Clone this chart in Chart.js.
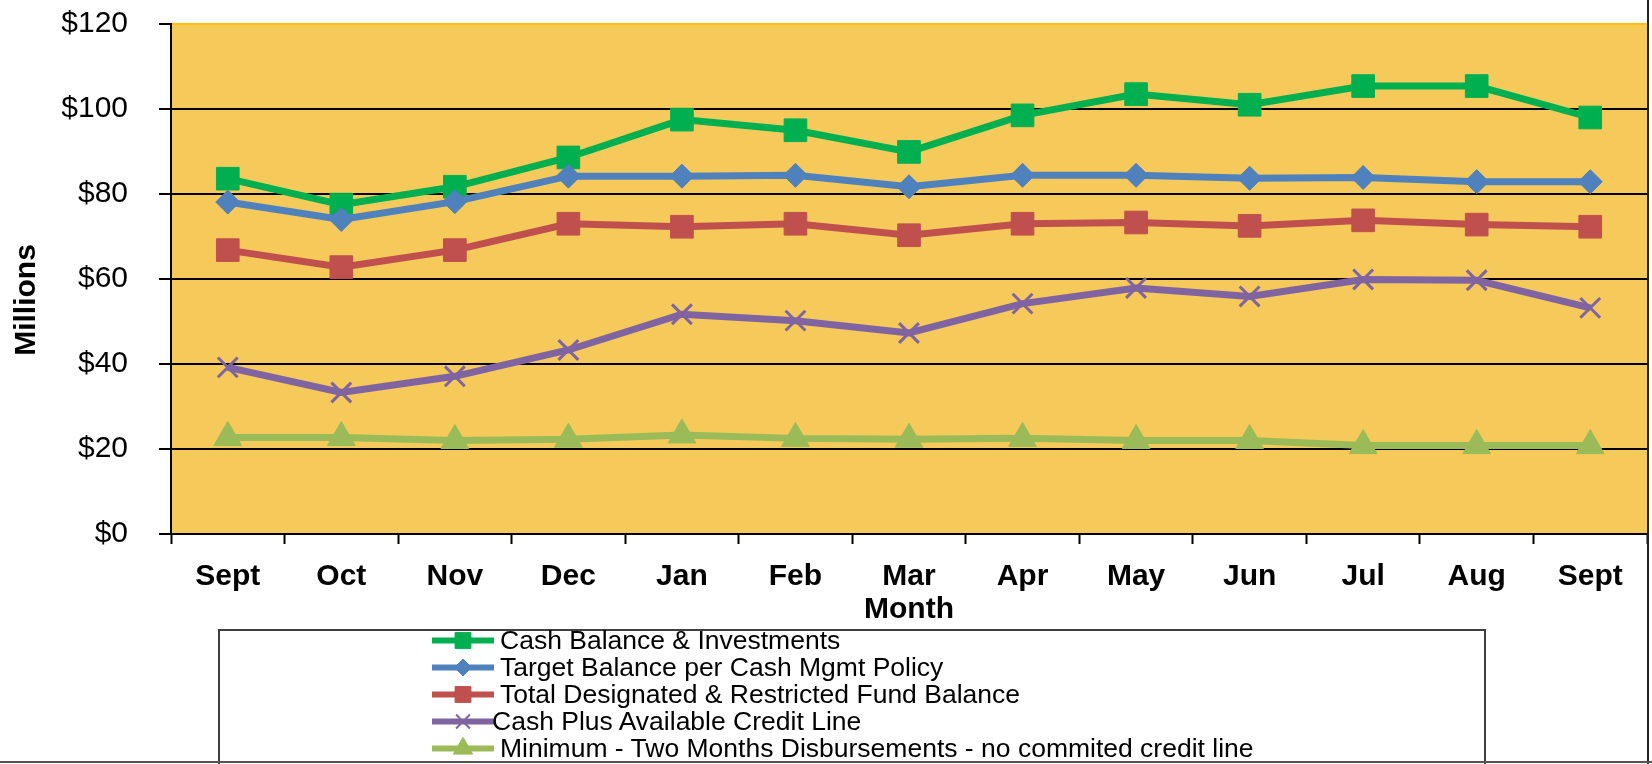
<!DOCTYPE html>
<html>
<head>
<meta charset="utf-8">
<script src="https://cdn.jsdelivr.net/npm/chart.js@4.4.1/dist/chart.umd.min.js"></script>
<style>
  html, body { margin: 0; padding: 0; background: #fff; }
  #wrap { position: relative; width: 1652px; height: 764px; overflow: hidden; }
  #chart { position: absolute; left: 0; top: 0; }
  #legend {
    position: absolute; left: 218px; top: 629px; width: 1264px; height: 200px;
    border: 2px solid #404040; background: #fff;
    font-family: 'Liberation Sans', Arial, sans-serif; font-size: 26.5px; color: #000;
  }
  #legend .inner { position: relative; top: -4px; }
  .row { position: relative; height: 27px; }
  .row canvas { position: absolute; left: 212px; top: 0; }
  .row span { position: absolute; left: 280px; top: 0; line-height: 27px; white-space: nowrap; }
  .edge-r { position: absolute; left: 1647px; top: 0; width: 2px; height: 764px; background: #222; }
  .edge-b { position: absolute; left: 0; top: 761px; width: 1652px; height: 2px; background: #555; }
</style>
</head>
<body>
<div id="wrap">
  <canvas id="chart" width="1652" height="764"></canvas>
  <div id="legend"><div class="inner" id="legend-rows"></div></div>
  <div class="edge-r"></div>
  <div class="edge-b"></div>
</div>
<script>
// Data (millions)
const months = ['Sept', 'Oct', 'Nov', 'Dec', 'Jan', 'Feb', 'Mar', 'Apr', 'May', 'Jun', 'Jul', 'Aug', 'Sept'];
const cashBalance = [83.6, 77.5, 81.7, 88.6, 97.5, 95.0, 89.9, 98.5, 103.5, 101.0, 105.4, 105.4, 98.0];
const targetBalance = [78.1, 74.0, 78.2, 84.2, 84.2, 84.4, 81.7, 84.4, 84.4, 83.7, 83.9, 82.9, 82.9];
const designatedFunds = [66.8, 62.8, 66.8, 73.0, 72.3, 73.0, 70.3, 73.0, 73.3, 72.5, 73.8, 72.8, 72.3];
const cashPlusCredit = [39.2, 33.3, 37.1, 43.3, 51.7, 50.2, 47.3, 54.2, 57.9, 55.9, 59.9, 59.7, 53.2];
const minimumTwoMonths = [22.7, 22.7, 22.0, 22.3, 23.3, 22.5, 22.3, 22.5, 22.0, 22.0, 20.8, 20.8, 20.8];
const yTicks = [0, 20, 40, 60, 80, 100, 120];

const FONT = "'Liberation Sans', Arial, sans-serif";

// Series styles (Excel-like: later series drawn on top)
const series = [
  { label: 'Cash Balance & Investments', data: cashBalance, color: '#00B050', style: 'rect', radius: 16, order: 5 },
  { label: 'Target Balance per Cash Mgmt Policy', data: targetBalance, color: '#4F81BD', style: 'rectRot', radius: 12, order: 4 },
  { label: 'Total Designated & Restricted Fund Balance', data: designatedFunds, color: '#C0504D', style: 'rect', radius: 16, order: 3 },
  { label: 'Cash Plus Available Credit Line', data: cashPlusCredit, color: '#8064A2', style: 'crossRot', radius: 14, order: 2, textLeft: 272 },
  { label: 'Minimum - Two Months Disbursements - no commited credit line', data: minimumTwoMonths, color: '#9BBB59', style: 'triangle', radius: 16, order: 1 }
];

// Plot background + y axis title
const plotDecor = {
  id: 'plotDecor',
  beforeDraw(chart) {
    const { ctx, chartArea: a } = chart;
    ctx.save();
    ctx.fillStyle = '#F5C95A';
    ctx.fillRect(a.left, a.top, a.right - a.left, a.bottom - a.top);
    ctx.restore();
  },
  afterDraw(chart) {
    const { ctx } = chart;
    ctx.save();
    ctx.fillStyle = '#000';
    ctx.font = 'bold 30px ' + FONT;
    ctx.textAlign = 'center';
    ctx.textBaseline = 'middle';
    ctx.translate(27, 300);
    ctx.rotate(-Math.PI / 2);
    ctx.fillText('Millions', 0, 0);
    ctx.restore();
  }
};

const chart = new Chart(document.getElementById('chart'), {
  type: 'line',
  data: {
    labels: months,
    datasets: series.map(s => ({
      label: s.label,
      data: s.data,
      order: s.order,
      borderColor: s.color,
      backgroundColor: s.color,
      borderWidth: 7,
      tension: 0,
      pointStyle: s.style,
      pointRadius: s.radius,
      pointHoverRadius: s.radius,
      pointBackgroundColor: s.color,
      pointBorderColor: s.color,
      pointBorderWidth: s.style === 'crossRot' ? 3 : 1
    }))
  },
  options: {
    responsive: false,
    animation: false,
    devicePixelRatio: 1,
    layout: { autoPadding: false, padding: { top: 24, right: 5, left: 0, bottom: 0 } },
    plugins: {
      legend: { display: false },
      tooltip: { enabled: false },
      title: { display: false }
    },
    scales: {
      x: {
        offset: true,
        grid: {
          offset: true,
          drawOnChartArea: false,
          drawTicks: true,
          tickLength: 10,
          tickWidth: 2,
          tickColor: '#000'
        },
        border: { color: '#000', width: 2 },
        ticks: {
          color: '#000',
          font: { family: FONT, size: 30, weight: 'bold' },
          padding: 15,
          maxRotation: 0,
          autoSkip: false
        },
        title: {
          display: true,
          text: 'Month',
          color: '#000',
          font: { family: FONT, size: 30, weight: 'bold' },
          padding: { top: 0, bottom: 136 }
        },
        afterFit(scale) { scale.height = 230; }
      },
      y: {
        min: 0,
        max: 120,
        afterBuildTicks(scale) { scale.ticks = yTicks.map(v => ({ value: v })); },
        grid: {
          color: ctx => (ctx.tick && ctx.tick.value === 120 ? '#FFC000' : '#000'),
          lineWidth: 2,
          tickLength: 12,
          tickColor: '#000',
          drawTicks: true
        },
        border: { color: '#000', width: 2 },
        ticks: {
          color: '#000',
          font: { family: FONT, size: 30 },
          padding: 31,
          callback: v => '$' + v
        },
        afterFit(scale) {
          scale.width = 171;
          scale.paddingTop = 0;
          scale.paddingBottom = 0;
        }
      }
    }
  },
  plugins: [plotDecor]
});

// HTML legend built from the series
function renderLegend() {
  const box = document.getElementById('legend-rows');
  series.forEach(s => {
    const row = document.createElement('div');
    row.className = 'row';
    const cv = document.createElement('canvas');
    cv.width = 62;
    cv.height = 27;
    const c = cv.getContext('2d');
    c.strokeStyle = s.color;
    c.fillStyle = s.color;
    c.lineWidth = 6;
    c.beginPath();
    c.moveTo(0, 13.5);
    c.lineTo(62, 13.5);
    c.stroke();
    c.lineWidth = s.style === 'crossRot' ? 2 : 1;
    if (Chart.helpers && Chart.helpers.drawPoint) {
      Chart.helpers.drawPoint(c, {
        pointStyle: s.style,
        radius: s.radius * 0.7,
        borderWidth: c.lineWidth,
        rotation: 0
      }, 31, 13.5);
    }
    const txt = document.createElement('span');
    txt.textContent = s.label;
    if (s.textLeft) txt.style.left = s.textLeft + 'px';
    row.appendChild(cv);
    row.appendChild(txt);
    box.appendChild(row);
  });
}

renderLegend();
</script>
</body>
</html>
